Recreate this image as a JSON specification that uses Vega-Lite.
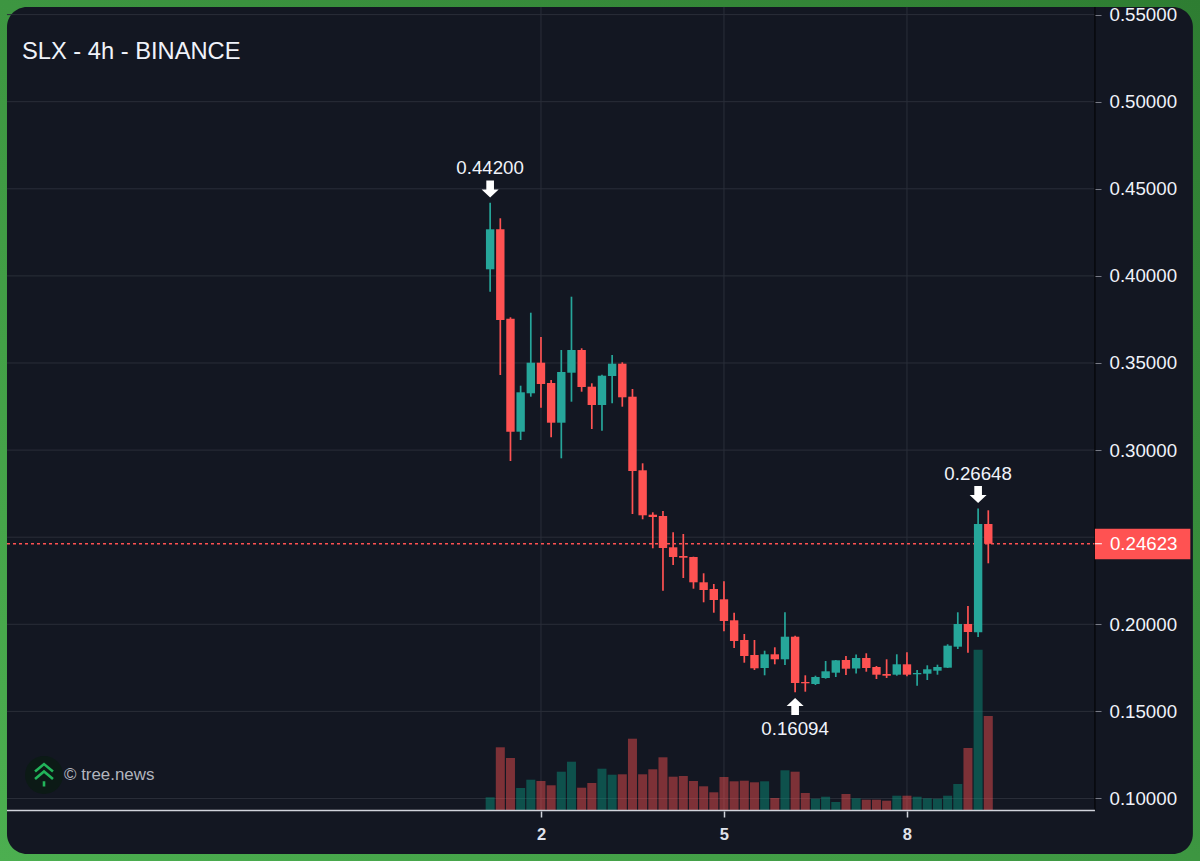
{
  "$schema": "https://vega.github.io/schema/vega-lite/v6.json",
  "width": 1200,
  "height": 861,
  "padding": 0,
  "autosize": {"type": "none"},
  "background": "#3f9a45",
  "config": {
    "view": {"stroke": null},
    "font": "Liberation Sans",
    "axis": {"labelFont": "Liberation Sans"},
    "scale": {"continuousPadding": 0}
  },
  "datasets": {
    "candles": [
      {"t": "2025-01-01T04:00:00Z", "dir": "up", "open": 0.40379, "high": 0.44200, "low": 0.39093, "close": 0.42675, "volume": 12.7},
      {"t": "2025-01-01T08:00:00Z", "dir": "down", "open": 0.42675, "high": 0.43307, "low": 0.34311, "close": 0.37469, "volume": 62.7},
      {"t": "2025-01-01T12:00:00Z", "dir": "down", "open": 0.37543, "high": 0.37624, "low": 0.29374, "close": 0.31056, "volume": 52},
      {"t": "2025-01-01T16:00:00Z", "dir": "up", "open": 0.31056, "high": 0.33697, "low": 0.30580, "close": 0.33318, "volume": 22},
      {"t": "2025-01-01T20:00:00Z", "dir": "up", "open": 0.33261, "high": 0.37887, "low": 0.33066, "close": 0.35017, "volume": 30.3},
      {"t": "2025-01-02T00:00:00Z", "dir": "down", "open": 0.35017, "high": 0.36493, "low": 0.32434, "close": 0.33795, "volume": 29},
      {"t": "2025-01-02T04:00:00Z", "dir": "down", "open": 0.33852, "high": 0.34024, "low": 0.30735, "close": 0.31573, "volume": 24.7},
      {"t": "2025-01-02T08:00:00Z", "dir": "up", "open": 0.31573, "high": 0.35746, "low": 0.29529, "close": 0.34483, "volume": 38.3},
      {"t": "2025-01-02T12:00:00Z", "dir": "up", "open": 0.34443, "high": 0.38806, "low": 0.32778, "close": 0.35746, "volume": 48.3},
      {"t": "2025-01-02T16:00:00Z", "dir": "down", "open": 0.35746, "high": 0.35844, "low": 0.33352, "close": 0.33622, "volume": 22.3},
      {"t": "2025-01-02T20:00:00Z", "dir": "down", "open": 0.33640, "high": 0.33835, "low": 0.31211, "close": 0.32589, "volume": 27},
      {"t": "2025-01-03T00:00:00Z", "dir": "up", "open": 0.32589, "high": 0.34329, "low": 0.31114, "close": 0.34271, "volume": 41.3},
      {"t": "2025-01-03T04:00:00Z", "dir": "up", "open": 0.34254, "high": 0.35459, "low": 0.32687, "close": 0.34960, "volume": 35.3},
      {"t": "2025-01-03T08:00:00Z", "dir": "down", "open": 0.34960, "high": 0.35040, "low": 0.32492, "close": 0.33031, "volume": 35.7},
      {"t": "2025-01-03T12:00:00Z", "dir": "down", "open": 0.33066, "high": 0.33508, "low": 0.26332, "close": 0.28800, "volume": 71.3},
      {"t": "2025-01-03T16:00:00Z", "dir": "down", "open": 0.28840, "high": 0.29242, "low": 0.26028, "close": 0.26257, "volume": 35.7},
      {"t": "2025-01-03T20:00:00Z", "dir": "down", "open": 0.26292, "high": 0.26429, "low": 0.24363, "close": 0.26160, "volume": 40.7},
      {"t": "2025-01-04T00:00:00Z", "dir": "down", "open": 0.26217, "high": 0.26504, "low": 0.21929, "close": 0.24380, "volume": 52.7},
      {"t": "2025-01-04T04:00:00Z", "dir": "down", "open": 0.24420, "high": 0.25281, "low": 0.23404, "close": 0.23863, "volume": 33.3},
      {"t": "2025-01-04T08:00:00Z", "dir": "down", "open": 0.23921, "high": 0.25184, "low": 0.22658, "close": 0.23823, "volume": 34},
      {"t": "2025-01-04T12:00:00Z", "dir": "down", "open": 0.23863, "high": 0.23881, "low": 0.22044, "close": 0.22411, "volume": 29},
      {"t": "2025-01-04T16:00:00Z", "dir": "down", "open": 0.22411, "high": 0.22928, "low": 0.21263, "close": 0.21969, "volume": 23.7},
      {"t": "2025-01-04T20:00:00Z", "dir": "down", "open": 0.22026, "high": 0.22313, "low": 0.20666, "close": 0.21395, "volume": 17.7},
      {"t": "2025-01-05T00:00:00Z", "dir": "down", "open": 0.21435, "high": 0.22469, "low": 0.19598, "close": 0.20189, "volume": 33},
      {"t": "2025-01-05T04:00:00Z", "dir": "down", "open": 0.20230, "high": 0.20666, "low": 0.18640, "close": 0.19041, "volume": 28.7},
      {"t": "2025-01-05T08:00:00Z", "dir": "down", "open": 0.19099, "high": 0.19443, "low": 0.17796, "close": 0.18180, "volume": 29.3},
      {"t": "2025-01-05T12:00:00Z", "dir": "down", "open": 0.18238, "high": 0.19099, "low": 0.17377, "close": 0.17474, "volume": 27.7},
      {"t": "2025-01-05T16:00:00Z", "dir": "up", "open": 0.17491, "high": 0.18484, "low": 0.17072, "close": 0.18278, "volume": 28.7},
      {"t": "2025-01-05T20:00:00Z", "dir": "down", "open": 0.18278, "high": 0.18680, "low": 0.17704, "close": 0.17991, "volume": 12},
      {"t": "2025-01-06T00:00:00Z", "dir": "up", "open": 0.17991, "high": 0.20689, "low": 0.17664, "close": 0.19288, "volume": 39.7},
      {"t": "2025-01-06T04:00:00Z", "dir": "down", "open": 0.19288, "high": 0.19346, "low": 0.16094, "close": 0.16630, "volume": 38.3},
      {"t": "2025-01-06T08:00:00Z", "dir": "down", "open": 0.16688, "high": 0.17072, "low": 0.16131, "close": 0.16613, "volume": 17},
      {"t": "2025-01-06T12:00:00Z", "dir": "up", "open": 0.16573, "high": 0.17049, "low": 0.16516, "close": 0.16975, "volume": 11.3},
      {"t": "2025-01-06T16:00:00Z", "dir": "up", "open": 0.16917, "high": 0.17893, "low": 0.16877, "close": 0.17302, "volume": 13.3},
      {"t": "2025-01-06T20:00:00Z", "dir": "up", "open": 0.17222, "high": 0.17951, "low": 0.16975, "close": 0.17933, "volume": 8},
      {"t": "2025-01-07T00:00:00Z", "dir": "down", "open": 0.17951, "high": 0.18180, "low": 0.17090, "close": 0.17451, "volume": 16},
      {"t": "2025-01-07T04:00:00Z", "dir": "up", "open": 0.17463, "high": 0.18266, "low": 0.17176, "close": 0.18065, "volume": 11.7},
      {"t": "2025-01-07T08:00:00Z", "dir": "down", "open": 0.18065, "high": 0.18335, "low": 0.17279, "close": 0.17491, "volume": 10.3},
      {"t": "2025-01-07T12:00:00Z", "dir": "down", "open": 0.17549, "high": 0.17606, "low": 0.16860, "close": 0.17107, "volume": 10.3},
      {"t": "2025-01-07T16:00:00Z", "dir": "down", "open": 0.17147, "high": 0.17991, "low": 0.16917, "close": 0.17049, "volume": 9.3},
      {"t": "2025-01-07T20:00:00Z", "dir": "up", "open": 0.17107, "high": 0.18278, "low": 0.17049, "close": 0.17704, "volume": 14.3},
      {"t": "2025-01-08T00:00:00Z", "dir": "down", "open": 0.17704, "high": 0.18393, "low": 0.17015, "close": 0.17107, "volume": 14.3},
      {"t": "2025-01-08T04:00:00Z", "dir": "up", "open": 0.17130, "high": 0.17377, "low": 0.16475, "close": 0.17204, "volume": 13.3},
      {"t": "2025-01-08T08:00:00Z", "dir": "up", "open": 0.17164, "high": 0.17646, "low": 0.16803, "close": 0.17417, "volume": 11.7},
      {"t": "2025-01-08T12:00:00Z", "dir": "up", "open": 0.17336, "high": 0.17681, "low": 0.17107, "close": 0.17549, "volume": 11.3},
      {"t": "2025-01-08T16:00:00Z", "dir": "up", "open": 0.17509, "high": 0.18852, "low": 0.17491, "close": 0.18772, "volume": 14.3},
      {"t": "2025-01-08T20:00:00Z", "dir": "up", "open": 0.18714, "high": 0.20689, "low": 0.18582, "close": 0.20017, "volume": 26},
      {"t": "2025-01-09T00:00:00Z", "dir": "down", "open": 0.20017, "high": 0.21051, "low": 0.18370, "close": 0.19558, "volume": 62},
      {"t": "2025-01-09T04:00:00Z", "dir": "up", "open": 0.19541, "high": 0.26648, "low": 0.19271, "close": 0.25758, "volume": 160.3},
      {"t": "2025-01-09T08:00:00Z", "dir": "down", "open": 0.25758, "high": 0.26544, "low": 0.23502, "close": 0.24623, "volume": 94}
    ],
    "frame": [
      {"left": "2024-12-24T03:09:00Z", "right": "2025-01-12T19:18:00Z", "top": 0.55838, "bottom": 0.06412}
    ],
    "panel": [
      {"left": "2024-12-24T05:54:00Z", "right": "2025-01-12T16:30:00Z", "top": 0.55437, "bottom": 0.06814}
    ],
    "hgrid": [
      {"price": 0.10, "from": "2024-12-24T05:54:00Z", "to": "2025-01-11T01:58:00Z"},
      {"price": 0.15, "from": "2024-12-24T05:54:00Z", "to": "2025-01-11T01:58:00Z"},
      {"price": 0.20, "from": "2024-12-24T05:54:00Z", "to": "2025-01-11T01:58:00Z"},
      {"price": 0.25, "from": "2024-12-24T05:54:00Z", "to": "2025-01-11T01:58:00Z"},
      {"price": 0.30, "from": "2024-12-24T05:54:00Z", "to": "2025-01-11T01:58:00Z"},
      {"price": 0.35, "from": "2024-12-24T05:54:00Z", "to": "2025-01-11T01:58:00Z"},
      {"price": 0.40, "from": "2024-12-24T05:54:00Z", "to": "2025-01-11T01:58:00Z"},
      {"price": 0.45, "from": "2024-12-24T05:54:00Z", "to": "2025-01-11T01:58:00Z"},
      {"price": 0.50, "from": "2024-12-24T05:54:00Z", "to": "2025-01-11T01:58:00Z"},
      {"price": 0.55, "from": "2024-12-24T05:54:00Z", "to": "2025-01-11T01:58:00Z"}
    ],
    "vgrid": [
      {"t": "2025-01-02T00:00:00Z", "from": 0.0934, "to": 0.55437},
      {"t": "2025-01-05T00:00:00Z", "from": 0.0934, "to": 0.55437},
      {"t": "2025-01-08T00:00:00Z", "from": 0.0934, "to": 0.55437}
    ],
    "extremes": [
      {"t": "2025-01-01T04:00:00Z", "arrow": "down", "arrowAt": 0.44988, "labelAt": 0.46200, "label": "0.44200"},
      {"t": "2025-01-06T04:00:00Z", "arrow": "up", "arrowAt": 0.15281, "labelAt": 0.13990, "label": "0.16094"},
      {"t": "2025-01-09T04:00:00Z", "arrow": "down", "arrowAt": 0.27451, "labelAt": 0.28628, "label": "0.26648"}
    ]
  },
  "resolve": {"scale": {"y": "independent", "color": "independent"}},
  "layer": [
    {
      "layer": [
        {
          "data": {"name": "frame"},
          "mark": {
            "type": "rect",
            "color": {
              "gradient": "linear",
              "x1": 0, "y1": 1, "x2": 1, "y2": 0,
              "stops": [{"offset": 0, "color": "#4caf50"}, {"offset": 1, "color": "#2e7d32"}]
            }
          },
          "encoding": {
            "x": {"field": "left", "type": "temporal", "scale": {"type": "utc", "domain": ["2024-12-24T03:09:00Z", "2025-01-12T19:18:00Z"]}},
            "x2": {"field": "right"},
            "y": {"field": "top", "type": "quantitative", "axis": null, "scale": {"domain": [0.06412, 0.55838], "nice": false, "zero": false}},
            "y2": {"field": "bottom"}
          }
        },
        {
          "data": {"name": "panel"},
          "mark": {"type": "rect", "color": "#131722", "cornerRadius": 20},
          "encoding": {
            "x": {"field": "left", "type": "temporal", "scale": {"type": "utc", "domain": ["2024-12-24T03:09:00Z", "2025-01-12T19:18:00Z"]}},
            "x2": {"field": "right"},
            "y": {"field": "top", "type": "quantitative", "axis": null, "scale": {"domain": [0.06412, 0.55838], "nice": false, "zero": false}},
            "y2": {"field": "bottom"}
          }
        },
        {
          "data": {"name": "hgrid"},
          "mark": {"type": "rule", "color": "#2a2e39", "strokeWidth": 1},
          "encoding": {
            "y": {"field": "price", "type": "quantitative", "axis": null, "scale": {"domain": [0.06412, 0.55838], "nice": false, "zero": false}},
            "x": {"field": "from", "type": "temporal", "scale": {"type": "utc", "domain": ["2024-12-24T03:09:00Z", "2025-01-12T19:18:00Z"]}},
            "x2": {"field": "to"}
          }
        },
        {
          "data": {"name": "vgrid"},
          "mark": {"type": "rule", "color": "#2a2e39", "strokeWidth": 1},
          "encoding": {
            "x": {"field": "t", "type": "temporal", "scale": {"type": "utc", "domain": ["2024-12-24T03:09:00Z", "2025-01-12T19:18:00Z"]}},
            "y": {"field": "from", "type": "quantitative", "axis": null, "scale": {"domain": [0.06412, 0.55838], "nice": false, "zero": false}},
            "y2": {"field": "to"}
          }
        }
      ]
    },
    {
      "data": {"name": "candles"},
      "mark": {"type": "bar", "size": 9, "opacity": 0.45},
      "encoding": {
        "x": {"field": "t", "type": "temporal", "scale": {"type": "utc", "domain": ["2024-12-24T03:09:00Z", "2025-01-12T19:18:00Z"]}},
        "y": {"field": "volume", "type": "quantitative", "axis": null, "scale": {"domain": [-51, 810], "nice": false, "zero": false}},
        "y2": {"datum": 0},
        "color": {"field": "dir", "type": "nominal", "legend": null, "scale": {"domain": ["up", "down"], "range": ["#089981", "#ff5252"]}}
      }
    },
    {
      "layer": [
        {
          "data": {"values": [{"price": 0.24623, "from": "2024-12-24T05:54:00Z", "to": "2025-01-11T01:58:00Z"}]},
          "mark": {"type": "rule", "color": "#ff5252", "strokeWidth": 1.5, "strokeDash": [3, 3]},
          "encoding": {
            "y": {"field": "price", "type": "quantitative", "scale": {"domain": [0.06412, 0.55838], "nice": false, "zero": false}},
            "x": {"field": "from", "type": "temporal", "scale": {"type": "utc", "domain": ["2024-12-24T03:09:00Z", "2025-01-12T19:18:00Z"]}},
            "x2": {"field": "to"}
          }
        },
        {
          "data": {"values": [{"t": "2025-01-11T01:58:00Z", "from": 0.0934, "to": 0.55437}]},
          "mark": {"type": "rule", "color": "#000000", "strokeWidth": 1},
          "encoding": {
            "x": {"field": "t", "type": "temporal", "scale": {"type": "utc", "domain": ["2024-12-24T03:09:00Z", "2025-01-12T19:18:00Z"]}},
            "y": {"field": "from", "type": "quantitative", "scale": {"domain": [0.06412, 0.55838], "nice": false, "zero": false}},
            "y2": {"field": "to"}
          }
        },
        {
          "data": {"values": [{"price": 0.0931, "from": "2024-12-24T05:54:00Z", "to": "2025-01-11T01:58:00Z"}]},
          "mark": {"type": "rule", "color": "#d1d4dc", "strokeWidth": 1.5},
          "encoding": {
            "y": {"field": "price", "type": "quantitative", "scale": {"domain": [0.06412, 0.55838], "nice": false, "zero": false}},
            "x": {"field": "from", "type": "temporal", "scale": {"type": "utc", "domain": ["2024-12-24T03:09:00Z", "2025-01-12T19:18:00Z"]}},
            "x2": {"field": "to"}
          }
        },
        {
          "data": {"name": "candles"},
          "mark": {"type": "rule", "strokeWidth": 1.7},
          "encoding": {
            "x": {"field": "t", "type": "temporal", "scale": {"type": "utc", "domain": ["2024-12-24T03:09:00Z", "2025-01-12T19:18:00Z"]}},
            "y": {"field": "low", "type": "quantitative", "scale": {"domain": [0.06412, 0.55838], "nice": false, "zero": false}},
            "y2": {"field": "high"},
            "color": {"field": "dir", "type": "nominal", "legend": null, "scale": {"domain": ["up", "down"], "range": ["#26a69a", "#ff5252"]}}
          }
        },
        {
          "data": {"name": "candles"},
          "mark": {"type": "bar", "size": 8.4},
          "encoding": {
            "x": {
              "field": "t", "type": "temporal",
              "scale": {"type": "utc", "domain": ["2024-12-24T03:09:00Z", "2025-01-12T19:18:00Z"]},
              "axis": {
                "orient": "bottom", "offset": -50, "title": null, "grid": false, "domain": false,
                "values": ["2025-01-02T00:00:00Z", "2025-01-05T00:00:00Z", "2025-01-08T00:00:00Z"],
                "labelExpr": "utcdate(datum.value)",
                "tickColor": "#d1d4dc", "tickSize": 6, "tickWidth": 1.5,
                "labelColor": "#e0e3eb", "labelFontSize": 16.5, "labelFontWeight": "bold", "labelPadding": 9, "labelFlush": false,
                "zindex": 1
              }
            },
            "y": {
              "field": "open", "type": "quantitative",
              "scale": {"domain": [0.06412, 0.55838], "nice": false, "zero": false},
              "axis": {
                "orient": "right", "offset": -105, "title": null, "grid": false, "domain": false,
                "values": [0.10, 0.15, 0.20, 0.30, 0.35, 0.40, 0.45, 0.50, 0.55],
                "format": ".5f",
                "tickColor": "#787b86", "tickSize": 6, "tickWidth": 1,
                "labelColor": "#f0f3fa", "labelFontSize": 18.7, "labelPadding": 8, "labelFlush": false,
                "zindex": 1
              }
            },
            "y2": {"field": "close"},
            "color": {"field": "dir", "type": "nominal", "legend": null, "scale": {"domain": ["up", "down"], "range": ["#26a69a", "#ff5252"]}}
          }
        },
        {
          "data": {"name": "extremes"},
          "mark": {"type": "point", "filled": true, "opacity": 1, "size": 289, "color": "#ffffff"},
          "encoding": {
            "x": {"field": "t", "type": "temporal", "scale": {"type": "utc", "domain": ["2024-12-24T03:09:00Z", "2025-01-12T19:18:00Z"]}},
            "y": {"field": "arrowAt", "type": "quantitative", "scale": {"domain": [0.06412, 0.55838], "nice": false, "zero": false}},
            "shape": {
              "field": "arrow", "type": "nominal", "legend": null,
              "scale": {
                "domain": ["down", "up"],
                "range": ["M-0.45,-1L0.45,-1L0.45,0.05L1,0.05L0,1L-1,0.05L-0.45,0.05Z", "M-0.45,1L0.45,1L0.45,-0.05L1,-0.05L0,-1L-1,-0.05L-0.45,-0.05Z"]
              }
            }
          }
        },
        {
          "data": {"name": "extremes"},
          "mark": {"type": "text", "fontSize": 18.7, "color": "#f0f3fa", "align": "center", "baseline": "middle"},
          "encoding": {
            "x": {"field": "t", "type": "temporal", "scale": {"type": "utc", "domain": ["2024-12-24T03:09:00Z", "2025-01-12T19:18:00Z"]}},
            "y": {"field": "labelAt", "type": "quantitative", "scale": {"domain": [0.06412, 0.55838], "nice": false, "zero": false}},
            "text": {"field": "label"}
          }
        },
        {
          "data": {"values": [{"left": "2025-01-11T01:58:00Z", "right": "2025-01-12T15:30:00Z", "top": 0.25488, "bottom": 0.23731}]},
          "mark": {"type": "rect", "color": "#ff5252"},
          "encoding": {
            "x": {"field": "left", "type": "temporal", "scale": {"type": "utc", "domain": ["2024-12-24T03:09:00Z", "2025-01-12T19:18:00Z"]}},
            "x2": {"field": "right"},
            "y": {"field": "top", "type": "quantitative", "scale": {"domain": [0.06412, 0.55838], "nice": false, "zero": false}},
            "y2": {"field": "bottom"}
          }
        },
        {
          "data": {"values": [{"price": 0.24623, "from": "2025-01-11T01:58:00Z", "to": "2025-01-11T04:42:00Z"}]},
          "mark": {"type": "rule", "color": "#ffffff", "strokeWidth": 1},
          "encoding": {
            "y": {"field": "price", "type": "quantitative", "scale": {"domain": [0.06412, 0.55838], "nice": false, "zero": false}},
            "x": {"field": "from", "type": "temporal", "scale": {"type": "utc", "domain": ["2024-12-24T03:09:00Z", "2025-01-12T19:18:00Z"]}},
            "x2": {"field": "to"}
          }
        },
        {
          "data": {"values": [{"t": "2025-01-11T07:52:00Z", "price": 0.24623, "label": "0.24623"}]},
          "mark": {"type": "text", "fontSize": 18.7, "color": "#ffffff", "align": "left", "baseline": "middle"},
          "encoding": {
            "x": {"field": "t", "type": "temporal", "scale": {"type": "utc", "domain": ["2024-12-24T03:09:00Z", "2025-01-12T19:18:00Z"]}},
            "y": {"field": "price", "type": "quantitative", "scale": {"domain": [0.06412, 0.55838], "nice": false, "zero": false}},
            "text": {"field": "label"}
          }
        },
        {
          "data": {"values": [{"t": "2024-12-24T11:48:00Z", "price": 0.52853, "label": "SLX - 4h - BINANCE"}]},
          "mark": {"type": "text", "fontSize": 23.7, "color": "#f0f3fa", "align": "left", "baseline": "middle"},
          "encoding": {
            "x": {"field": "t", "type": "temporal", "scale": {"type": "utc", "domain": ["2024-12-24T03:09:00Z", "2025-01-12T19:18:00Z"]}},
            "y": {"field": "price", "type": "quantitative", "scale": {"domain": [0.06412, 0.55838], "nice": false, "zero": false}},
            "text": {"field": "label"}
          }
        },
        {
          "data": {"values": [{"t": "2024-12-24T20:28:00Z", "price": 0.11349}]},
          "mark": {"type": "point", "shape": "circle", "filled": true, "opacity": 1, "size": 1444, "color": "#0c1a16"},
          "encoding": {
            "x": {"field": "t", "type": "temporal", "scale": {"type": "utc", "domain": ["2024-12-24T03:09:00Z", "2025-01-12T19:18:00Z"]}},
            "y": {"field": "price", "type": "quantitative", "scale": {"domain": [0.06412, 0.55838], "nice": false, "zero": false}}
          }
        },
        {
          "data": {"values": [{"t": "2024-12-24T20:28:00Z", "price": 0.11349}]},
          "mark": {
            "type": "point", "filled": false, "opacity": 1, "size": 529, "color": "#22b45a", "strokeWidth": 2.6,
            "shape": "M-0.78,-0.3L0,-0.95L0.78,-0.3M-0.78,0.35L0,-0.3L0.78,0.35M0,0.55L0,1"
          },
          "encoding": {
            "x": {"field": "t", "type": "temporal", "scale": {"type": "utc", "domain": ["2024-12-24T03:09:00Z", "2025-01-12T19:18:00Z"]}},
            "y": {"field": "price", "type": "quantitative", "scale": {"domain": [0.06412, 0.55838], "nice": false, "zero": false}}
          }
        },
        {
          "data": {"values": [{"t": "2024-12-25T04:20:00Z", "price": 0.11349, "label": "© tree.news"}]},
          "mark": {"type": "text", "fontSize": 16.9, "color": "#b2b5be", "align": "left", "baseline": "middle"},
          "encoding": {
            "x": {"field": "t", "type": "temporal", "scale": {"type": "utc", "domain": ["2024-12-24T03:09:00Z", "2025-01-12T19:18:00Z"]}},
            "y": {"field": "price", "type": "quantitative", "scale": {"domain": [0.06412, 0.55838], "nice": false, "zero": false}},
            "text": {"field": "label"}
          }
        }
      ]
    }
  ]
}
